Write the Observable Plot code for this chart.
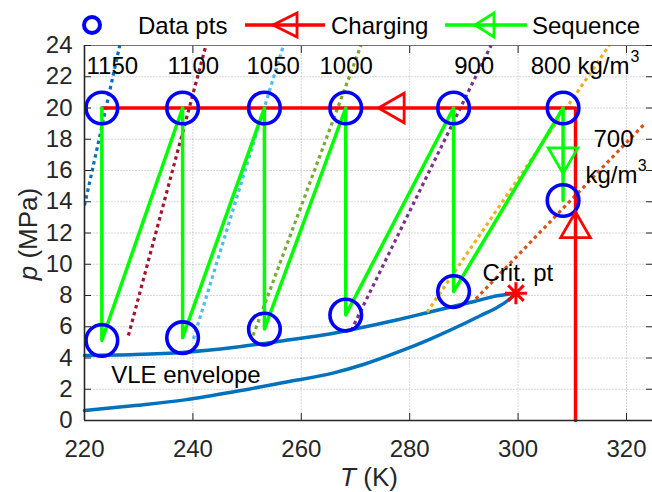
<!DOCTYPE html>
<html><head><meta charset="utf-8">
<script src="https://cdn.jsdelivr.net/npm/d3@7"></script>
<script src="https://cdn.jsdelivr.net/npm/@observablehq/plot@0.6"></script>
<style>
body{margin:0;background:#fff;font-family:"Liberation Sans",Arial,Helvetica,sans-serif;}
#wrap{position:relative;width:652px;height:492px;overflow:hidden;background:#fff;}
#legend{position:absolute;left:0;top:0;width:652px;height:44px;}
#chart{position:absolute;left:0;top:44px;}
</style></head><body>
<div id="wrap"><div id="legend"></div><div id="chart"></div></div>
<script>
// ---- data ----
const xTicks = [220, 240, 260, 280, 300, 320];
const yTicks = [0, 2, 4, 6, 8, 10, 12, 14, 16, 18, 20, 22, 24];

// data points (T in K), high pressure and low pressure (MPa)
const dataT = [223.2, 238.1, 253.2, 268.2, 288.1, 308.3];
const pHigh = [20, 20, 20, 20, 20, 20];
const pLow = [5.12, 5.3, 5.85, 6.75, 8.25, 14.08];

// charging path
const chargeT = [310.6, 310.6, 223.2];
const chargeP = [0, 20, 20];
const chargeArrowT = [310.6, 277.4];
const chargeArrowP = [12.25, 20];
const chargeArrowRot = [0, -90];

// sequence arrow
const seqArrowT = [308.3];
const seqArrowP = [16.9];

// critical point
const critT = [299.6];
const critP = [8.15];

// VLE envelope
const vleUpperT = [220, 229.3, 238.5, 247.8, 257, 265.5, 271.6, 277.8, 282.6, 287, 291.9, 296.2, 299.6];
const vleUpperP = [4.16, 4.22, 4.37, 4.69, 5.12, 5.55, 5.98, 6.45, 6.85, 7.22, 7.62, 7.98, 8.15];
const vleLowerT = [220, 229.3, 238.5, 247.8, 257, 266, 271.6, 277.8, 283.9, 290, 293.1, 296.2, 298.1, 299.6];
const vleLowerP = [0.64, 0.96, 1.32, 1.85, 2.45, 3.05, 3.6, 4.37, 5.23, 6.19, 6.72, 7.25, 7.68, 8.15];

// isochores (kg/m3)
const isoDensity = [1150, 1100, 1050, 1000, 900, 800, 700];
const isoT0 = [220, 228.1, 240.1, 251.1, 269.2, 283.2, 292.2];
const isoP0 = [13.76, 5.44, 5.22, 5.44, 5.76, 6.93, 7.78];
const isoT1 = [226.5, 242.4, 256.7, 271.0, 295.0, 316.8, 323.2];
const isoP1 = [24, 24, 24, 24, 24, 24, 18.94];
const isoColor = ["#0072BD", "#A2142F", "#4DBEEE", "#77AC30", "#7E2F8E", "#EDB120", "#D95319"];

// annotations
const annoText = ["1150", "1100", "1050", "1000", "900", "800 kg/m", "700", "kg/m", "Crit. pt", "VLE envelope"];
const annoT = [220.37, 235.31, 249.89, 263.36, 288.2, 302.34, 313.91, 312.44, 293.43, 224.93];
const annoP = [22.18, 22.18, 22.18, 22.18, 22.18, 22.18, 17.49, 15.17, 8.96, 2.39];
const supText = ["3", "3"];
const supT = [320.74, 322.1];
const supP = [22.94, 15.94];

// ---- build tables ----
const points = dataT.flatMap((t, i) => [{T: t, p: pHigh[i]}, {T: t, p: pLow[i]}]);
const seq = dataT.flatMap((t, i) => [{T: t, p: pHigh[i]}, {T: t, p: pLow[i]}]);
const charge = chargeT.map((t, i) => ({T: t, p: chargeP[i]}));
const chargeArrows = chargeArrowT.map((t, i) => ({T: t, p: chargeArrowP[i], rot: chargeArrowRot[i]}));
const seqArrows = seqArrowT.map((t, i) => ({T: t, p: seqArrowP[i]}));
const crit = critT.map((t, i) => ({T: t, p: critP[i]}));
const vleUpper = vleUpperT.map((t, i) => ({T: t, p: vleUpperP[i]}));
const vleLower = vleLowerT.map((t, i) => ({T: t, p: vleLowerP[i]}));
const iso = isoDensity.map((d, i) => ({rho: d, T0: isoT0[i], p0: isoP0[i], T1: isoT1[i], p1: isoP1[i], color: isoColor[i]}));
const annos = annoText.map((s, i) => ({text: s, T: annoT[i], p: annoP[i]}));
const sups = supText.map((s, i) => ({text: s, T: supT[i], p: supP[i]}));

const asterisk = {
  draw(ctx, size) {
    const r = Math.sqrt(size / Math.PI), d = r * Math.SQRT1_2;
    ctx.moveTo(-r, 0); ctx.lineTo(r, 0);
    ctx.moveTo(0, -r); ctx.lineTo(0, r);
    ctx.moveTo(-d, -d); ctx.lineTo(d, d);
    ctx.moveTo(-d, d); ctx.lineTo(d, -d);
  }
};

const FONT = '"Liberation Sans", Arial, Helvetica, sans-serif';

const chart = Plot.plot({
  width: 652,
  height: 448,
  marginLeft: 84,
  marginRight: 0,
  marginTop: 1,
  marginBottom: 72,
  style: {fontFamily: FONT, fontSize: "24px", color: "#262626", background: "white", overflow: "visible"},
  x: {domain: [220, 324.8]},
  y: {domain: [0, 24]},
  color: {type: "identity"},
  marks: [
    Plot.gridX(xTicks, {stroke: "#262626", strokeOpacity: 0.18, strokeWidth: 1, strokeDasharray: "2,1"}),
    Plot.gridY(yTicks, {stroke: "#262626", strokeOpacity: 0.18, strokeWidth: 1, strokeDasharray: "2,1"}),
    Plot.line(vleUpper, {x: "T", y: "p", stroke: "#0072BD", strokeWidth: 3.5, curve: "monotone-x"}),
    Plot.line(vleLower, {x: "T", y: "p", stroke: "#0072BD", strokeWidth: 3.5, curve: "monotone-x"}),
    Plot.link(iso, {x1: "T0", y1: "p0", x2: "T1", y2: "p1", stroke: "color", strokeWidth: 3.2, strokeDasharray: "3.5,3.5", clip: true}),
    Plot.line(charge, {x: "T", y: "p", stroke: "#FF0000", strokeWidth: 3.5}),
    Plot.line(seq, {x: "T", y: "p", stroke: "#00FF00", strokeWidth: 3.5}),
    Plot.dot(points, {x: "T", y: "p", r: 15.8, stroke: "#0000FF", strokeWidth: 3.6, fill: "none"}),
    Plot.dot(chargeArrows, {x: "T", y: "p", symbol: "triangle", rotate: "rot", r: 11, stroke: "#FF0000", strokeWidth: 2.8, fill: "none"}),
    Plot.dot(seqArrows, {x: "T", y: "p", symbol: "triangle", rotate: 180, r: 11, stroke: "#00FF00", strokeWidth: 2.8, fill: "none"}),
    Plot.dot(crit, {x: "T", y: "p", symbol: asterisk, r: 11, stroke: "#FF0000", strokeWidth: 3, fill: "none"}),
    Plot.text(annos, {x: "T", y: "p", text: "text", textAnchor: "start", lineAnchor: "bottom", fontSize: 24, fill: "#000"}),
    Plot.text(sups, {x: "T", y: "p", text: "text", textAnchor: "start", lineAnchor: "bottom", fontSize: 16, fill: "#000"}),
    Plot.frame({stroke: "#262626", strokeOpacity: 0.6, strokeWidth: 1}),
    Plot.ruleY([0], {stroke: "#262626", strokeWidth: 1.6}),
    Plot.ruleX([220], {stroke: "#262626", strokeWidth: 1.6}),
    Plot.axisX(xTicks, {anchor: "bottom", tickSize: -7, tickPadding: 26.5, label: null, fontSize: 24, tickFormat: d => String(d)}),
    Plot.axisX(xTicks, {anchor: "top", tickSize: -7, label: null, tickFormat: () => ""}),
    Plot.axisY(yTicks, {anchor: "left", tickSize: -7, tickPadding: 19, label: null, fontSize: 24, tickFormat: d => String(d)}),
    Plot.axisY(yTicks, {anchor: "right", tickSize: -7, label: null, tickFormat: () => ""})
  ]
});
document.getElementById("chart").appendChild(chart);

// axis titles with italic symbols
const svg = d3.select(chart);
const xl = svg.append("text").attr("x", 369).attr("y", 442).attr("text-anchor", "middle")
  .attr("font-size", 26).attr("fill", "#262626").style("font-family", FONT);
xl.append("tspan").attr("font-style", "italic").text("T");
xl.append("tspan").text(" (K)");
const yl = svg.append("text").attr("transform", "translate(37,190) rotate(-90)").attr("text-anchor", "middle")
  .attr("font-size", 26).attr("fill", "#262626").style("font-family", FONT);
yl.append("tspan").attr("font-style", "italic").text("p");
yl.append("tspan").text(" (MPa)");

// legend
const lg = d3.select("#legend").append("svg").attr("width", 652).attr("height", 44)
  .style("font-family", FONT).style("font-size", "24px");
lg.append("circle").attr("cx", 92).attr("cy", 25).attr("r", 8).attr("fill", "none").attr("stroke", "#0000FF").attr("stroke-width", 4);
lg.append("text").attr("x", 138).attr("y", 34).text("Data pts");
lg.append("line").attr("x1", 245).attr("x2", 325).attr("y1", 25).attr("y2", 25).attr("stroke", "#FF0000").attr("stroke-width", 3.5);
lg.append("path").attr("d", "M273,25L297,13L297,37Z").attr("fill", "none").attr("stroke", "#FF0000").attr("stroke-width", 2.8);
lg.append("text").attr("x", 331).attr("y", 34).text("Charging");
lg.append("line").attr("x1", 445).attr("x2", 527).attr("y1", 25).attr("y2", 25).attr("stroke", "#00FF00").attr("stroke-width", 3.5);
lg.append("path").attr("d", "M475,25L494,13L494,37Z").attr("fill", "none").attr("stroke", "#00FF00").attr("stroke-width", 2.8);
lg.append("text").attr("x", 532).attr("y", 34).text("Sequence");
</script>
</body></html>
